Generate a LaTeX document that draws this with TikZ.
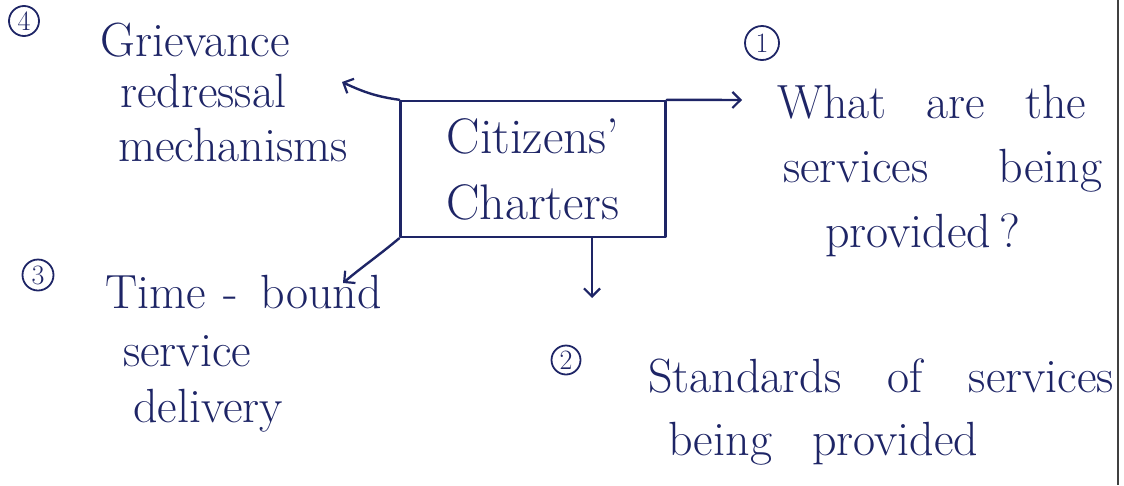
\documentclass[tikz,border=0pt]{standalone}
\usetikzlibrary{arrows.meta}
\definecolor{ink}{HTML}{1E2566}
\newcommand\handfont{\fontsize{48}{54}\selectfont}
\begin{document}
\begin{tikzpicture}[x=1pt,y=-1pt,
  inkline/.style={draw=ink, line width=2.4pt, line cap=round, line join=round},
  conn/.style={inkline, -{Straight Barb[length=8pt,width=16pt,line width=2.2pt]}},
  hand/.style={text=ink, font=\handfont, inner sep=0pt, anchor=base west},
  num/.style={circle, draw=ink, line width=1.8pt, text=ink, font=\fontsize{28}{28}\selectfont, inner sep=0pt, minimum size=30pt}]
\useasboundingbox (0,0) rectangle (1124,485);
% page edge line
\draw[black!75, line width=2pt] (1118,0) -- (1118,485);
% central box
\node[inkline, rectangle, minimum width=265pt, minimum height=136pt, inner sep=0pt,
      text=ink, align=center, font=\fontsize{50}{66}\selectfont] (box) at (533,169) {Citizens'\\Charters};
% number labels
\node[num] (n4) at (24,21) {4};
\node[num, minimum size=34pt] (n1) at (762,43) {1};
\node[num, minimum size=31pt] (n3) at (38,275) {3};
\node[num, minimum size=29pt] (n2) at (566,360) {2};
% texts
\node[hand] (g1) at (100,56) {Grievance};
\node[hand] (g2) at (120,107) {redressal};
\node[hand] (g3) at (118,161) {mechanisms};
\node[hand] (w1) at (777,118) {What\hspace{40pt}are\hspace{40pt}the};
\node[hand] (w2) at (783,182) {services\hspace{70pt}being};
\node[hand] (w3) at (825,247) {provided\hspace{8pt}?};
\node[hand] (t1) at (105,308) {Time\hspace{18pt}-\hspace{22pt}bound};
\node[hand] (t2) at (123,366) {service};
\node[hand] (t3) at (133,422) {delivery};
\node[hand] (s1) at (648,392) {Standards\hspace{46pt}of\hspace{46pt}services};
\node[hand] (s2) at (668,455) {being\hspace{40pt}provided};
% arrow end points
\coordinate (e1) at (742,100);
\coordinate (e4) at (342,82);
\coordinate (e3) at (343,283);
\coordinate (e2) at (592,298);
% connectors
\draw[conn] (box.north east) -- (e1);
\draw[conn] (box.north west) to[out=172, in=-25] (e4);
\draw[conn] (box.south west) to[out=-140, in=40] (e3);
\draw[conn] (e2 |- box.south) -- (e2);
\end{tikzpicture}
\end{document}
